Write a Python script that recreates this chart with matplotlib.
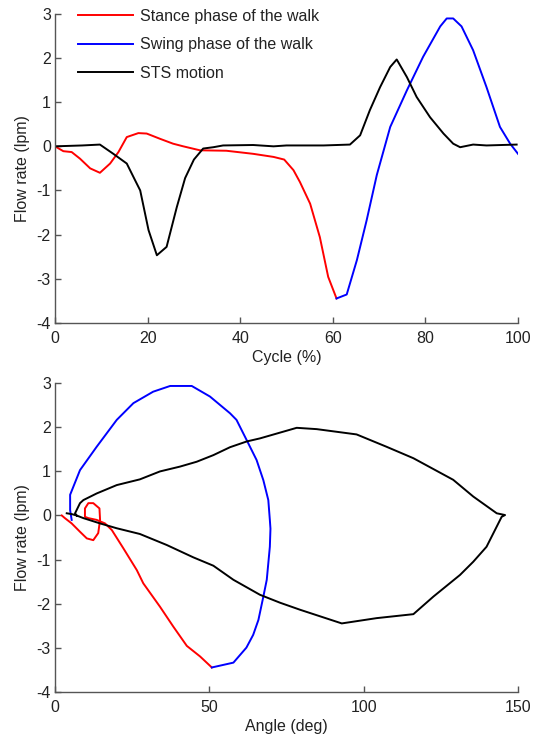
import matplotlib
matplotlib.use("Agg")
import matplotlib.pyplot as plt

plt.rcParams['font.family'] = ['Liberation Sans', 'DejaVu Sans']
plt.rcParams['font.size'] = 11.5
plt.rcParams['axes.unicode_minus'] = False

# flow rate over the cycle
stance_cycle = [0, 1.8, 3.6, 5.4, 7.6, 9.7, 11.9, 13.7, 15.5, 18, 19.8, 22.7, 25.5, 27.7, 31.3, 37,
                42.8, 47.2, 49.5, 51.5, 52.9, 55.1, 57.2, 59, 60.8]
stance_flow = [0, -0.11, -0.13, -0.28, -0.5, -0.6, -0.39, -0.13, 0.21, 0.3, 0.29, 0.17, 0.06, 0, -0.09, -0.1,
               -0.17, -0.24, -0.3, -0.54, -0.81, -1.3, -2.06, -2.96, -3.45]

swing_cycle = [60.8, 63, 65.2, 67.3, 69.5, 72.4, 76, 79.5, 83.2, 84.6, 86, 87.8, 90.3, 93.2, 96.1, 98.3, 100]
swing_flow = [-3.45, -3.36, -2.58, -1.68, -0.65, 0.44, 1.27, 2.03, 2.72, 2.9, 2.9, 2.72, 2.18, 1.34, 0.44, 0.06, -0.17]

sts_cycle = [0, 5.9, 9.7, 12.6, 15.5, 17.3, 18.4, 20.2, 22, 24.1, 26.3, 28.1, 30, 32, 34.2, 36.3, 42.8, 47.2,
             50, 58, 63.7, 65.9, 68, 70.2, 72.4, 73.8, 76, 78.1, 81, 83.9, 86, 87.5, 90.3, 93.2, 99.7]
sts_flow = [0, 0.02, 0.04, -0.17, -0.39, -0.77, -1.0, -1.9, -2.47, -2.28, -1.38, -0.72, -0.3, -0.05, -0.02, 0.02,
            0.03, 0, 0.02, 0.02, 0.04, 0.25, 0.82, 1.34, 1.8, 1.97, 1.57, 1.12, 0.66, 0.29, 0.06, -0.02, 0.04, 0.02, 0.04]

# flow rate against joint angle
stance_angle = [2.2, 3.2, 5.4, 8.1, 10.3, 12.4, 14.0, 14.6, 14.4, 12.4, 10.8, 9.7, 9.7, 10.8, 13.5, 16.2,
                18.4, 22.1, 26.5, 28.6, 34.0, 38.3, 42.7, 47.0, 50.8]
stance_flow2 = [0.0, -0.06, -0.18, -0.37, -0.52, -0.56, -0.40, -0.1, 0.16, 0.28, 0.28, 0.16, -0.03, -0.06,
                -0.1, -0.18, -0.33, -0.74, -1.24, -1.54, -2.07, -2.52, -2.96, -3.20, -3.45]

swing_angle = [50.8, 57.8, 62.0, 64.2, 65.9, 67.5, 68.6, 69.6, 69.8, 69.6, 69.1, 67.5, 65.3, 62.1, 58.8, 56.7,
               50.2, 44.3, 37.3, 31.8, 25.4, 20.0, 13.5, 8.1, 4.9, 4.9, 5.4]
swing_flow2 = [-3.45, -3.34, -3.0, -2.71, -2.37, -1.84, -1.46, -0.71, -0.3, -0.1, 0.35, 0.8, 1.26, 1.71, 2.17,
               2.32, 2.7, 2.94, 2.94, 2.81, 2.55, 2.17, 1.56, 1.03, 0.47, 0.12, -0.1]

sts_angle = [3.8, 5.5, 7.0, 9.2, 14.6, 20.0, 27.5, 36.2, 44.8, 51.3, 57.8, 66.4, 72.9, 79.4, 92.9, 104.2,
             116.1, 122.6, 131.2, 135.5, 139.8, 144.7, 145.8, 143.1, 135.5, 129.0, 116.1, 107.4, 97.7, 84.8,
             78.3, 66.4, 62.1, 56.7, 51.3, 45.9, 40.5, 34.0, 27.5, 20.0, 13.5, 9.2, 8.1, 6.5, 7.0]
sts_flow2 = [0.05, 0.03, 0.0, -0.06, -0.18, -0.29, -0.42, -0.67, -0.95, -1.14, -1.46, -1.8, -1.98, -2.14,
             -2.45, -2.33, -2.24, -1.84, -1.35, -1.05, -0.71, -0.03, 0.01, 0.05, 0.43, 0.81, 1.3, 1.56, 1.84,
             1.96, 1.99, 1.75, 1.68, 1.55, 1.37, 1.22, 1.11, 1.0, 0.82, 0.69, 0.5, 0.35, 0.28, 0.05, 0.0]

labels = ["Stance phase of the walk", "Swing phase of the walk", "STS motion"]
spine_col = '#555555'
text_col = '#222222'
lw = 1.4

fig = plt.figure(figsize=(5.33, 7.39), dpi=100)
ax1 = fig.add_axes([0.1032, 0.5633, 0.8687, 0.4177])
ax2 = fig.add_axes([0.1032, 0.0640, 0.8687, 0.4173])

def style(ax, xmax, xticks):
    ax.set_xlim(0, xmax)
    ax.set_ylim(-4, 3)
    ax.set_xticks(xticks)
    ax.set_yticks(range(-4, 4))
    for s in ['top', 'right']:
        ax.spines[s].set_visible(False)
    for s in ['left', 'bottom']:
        ax.spines[s].set_color(spine_col)
        ax.spines[s].set_linewidth(1.0)
    ax.tick_params(direction='in', length=4, width=1.0, color=spine_col, labelcolor=text_col)
    ax.tick_params(axis='y', pad=3)
    ax.tick_params(axis='x', pad=6)
    ax.set_ylabel("Flow rate (lpm)", color=text_col, labelpad=5)

ax1.plot(stance_cycle, stance_flow, color='red', lw=lw, label=labels[0])
ax1.plot(swing_cycle, swing_flow, color='blue', lw=lw, label=labels[1])
ax1.plot(sts_cycle, sts_flow, color='black', lw=lw, label=labels[2])
style(ax1, 100, [0, 20, 40, 60, 80, 100])
ax1.set_xlabel("Cycle (%)", color=text_col, labelpad=3)
leg = ax1.legend(loc='upper left', bbox_to_anchor=(78 / 533, 1 - 9 / 739), bbox_transform=fig.transFigure,
                 frameon=False, borderaxespad=0, borderpad=0, handlelength=3.45, handletextpad=0.44,
                 labelspacing=0.84)
for t in leg.get_texts():
    t.set_color(text_col)

ax2.plot(stance_angle, stance_flow2, color='red', lw=lw)
ax2.plot(swing_angle, swing_flow2, color='blue', lw=lw)
ax2.plot(sts_angle, sts_flow2, color='black', lw=lw)
style(ax2, 150, [0, 50, 100, 150])
ax2.set_xlabel("Angle (deg)", color=text_col, labelpad=3)

fig.savefig("out.png", dpi=100)
